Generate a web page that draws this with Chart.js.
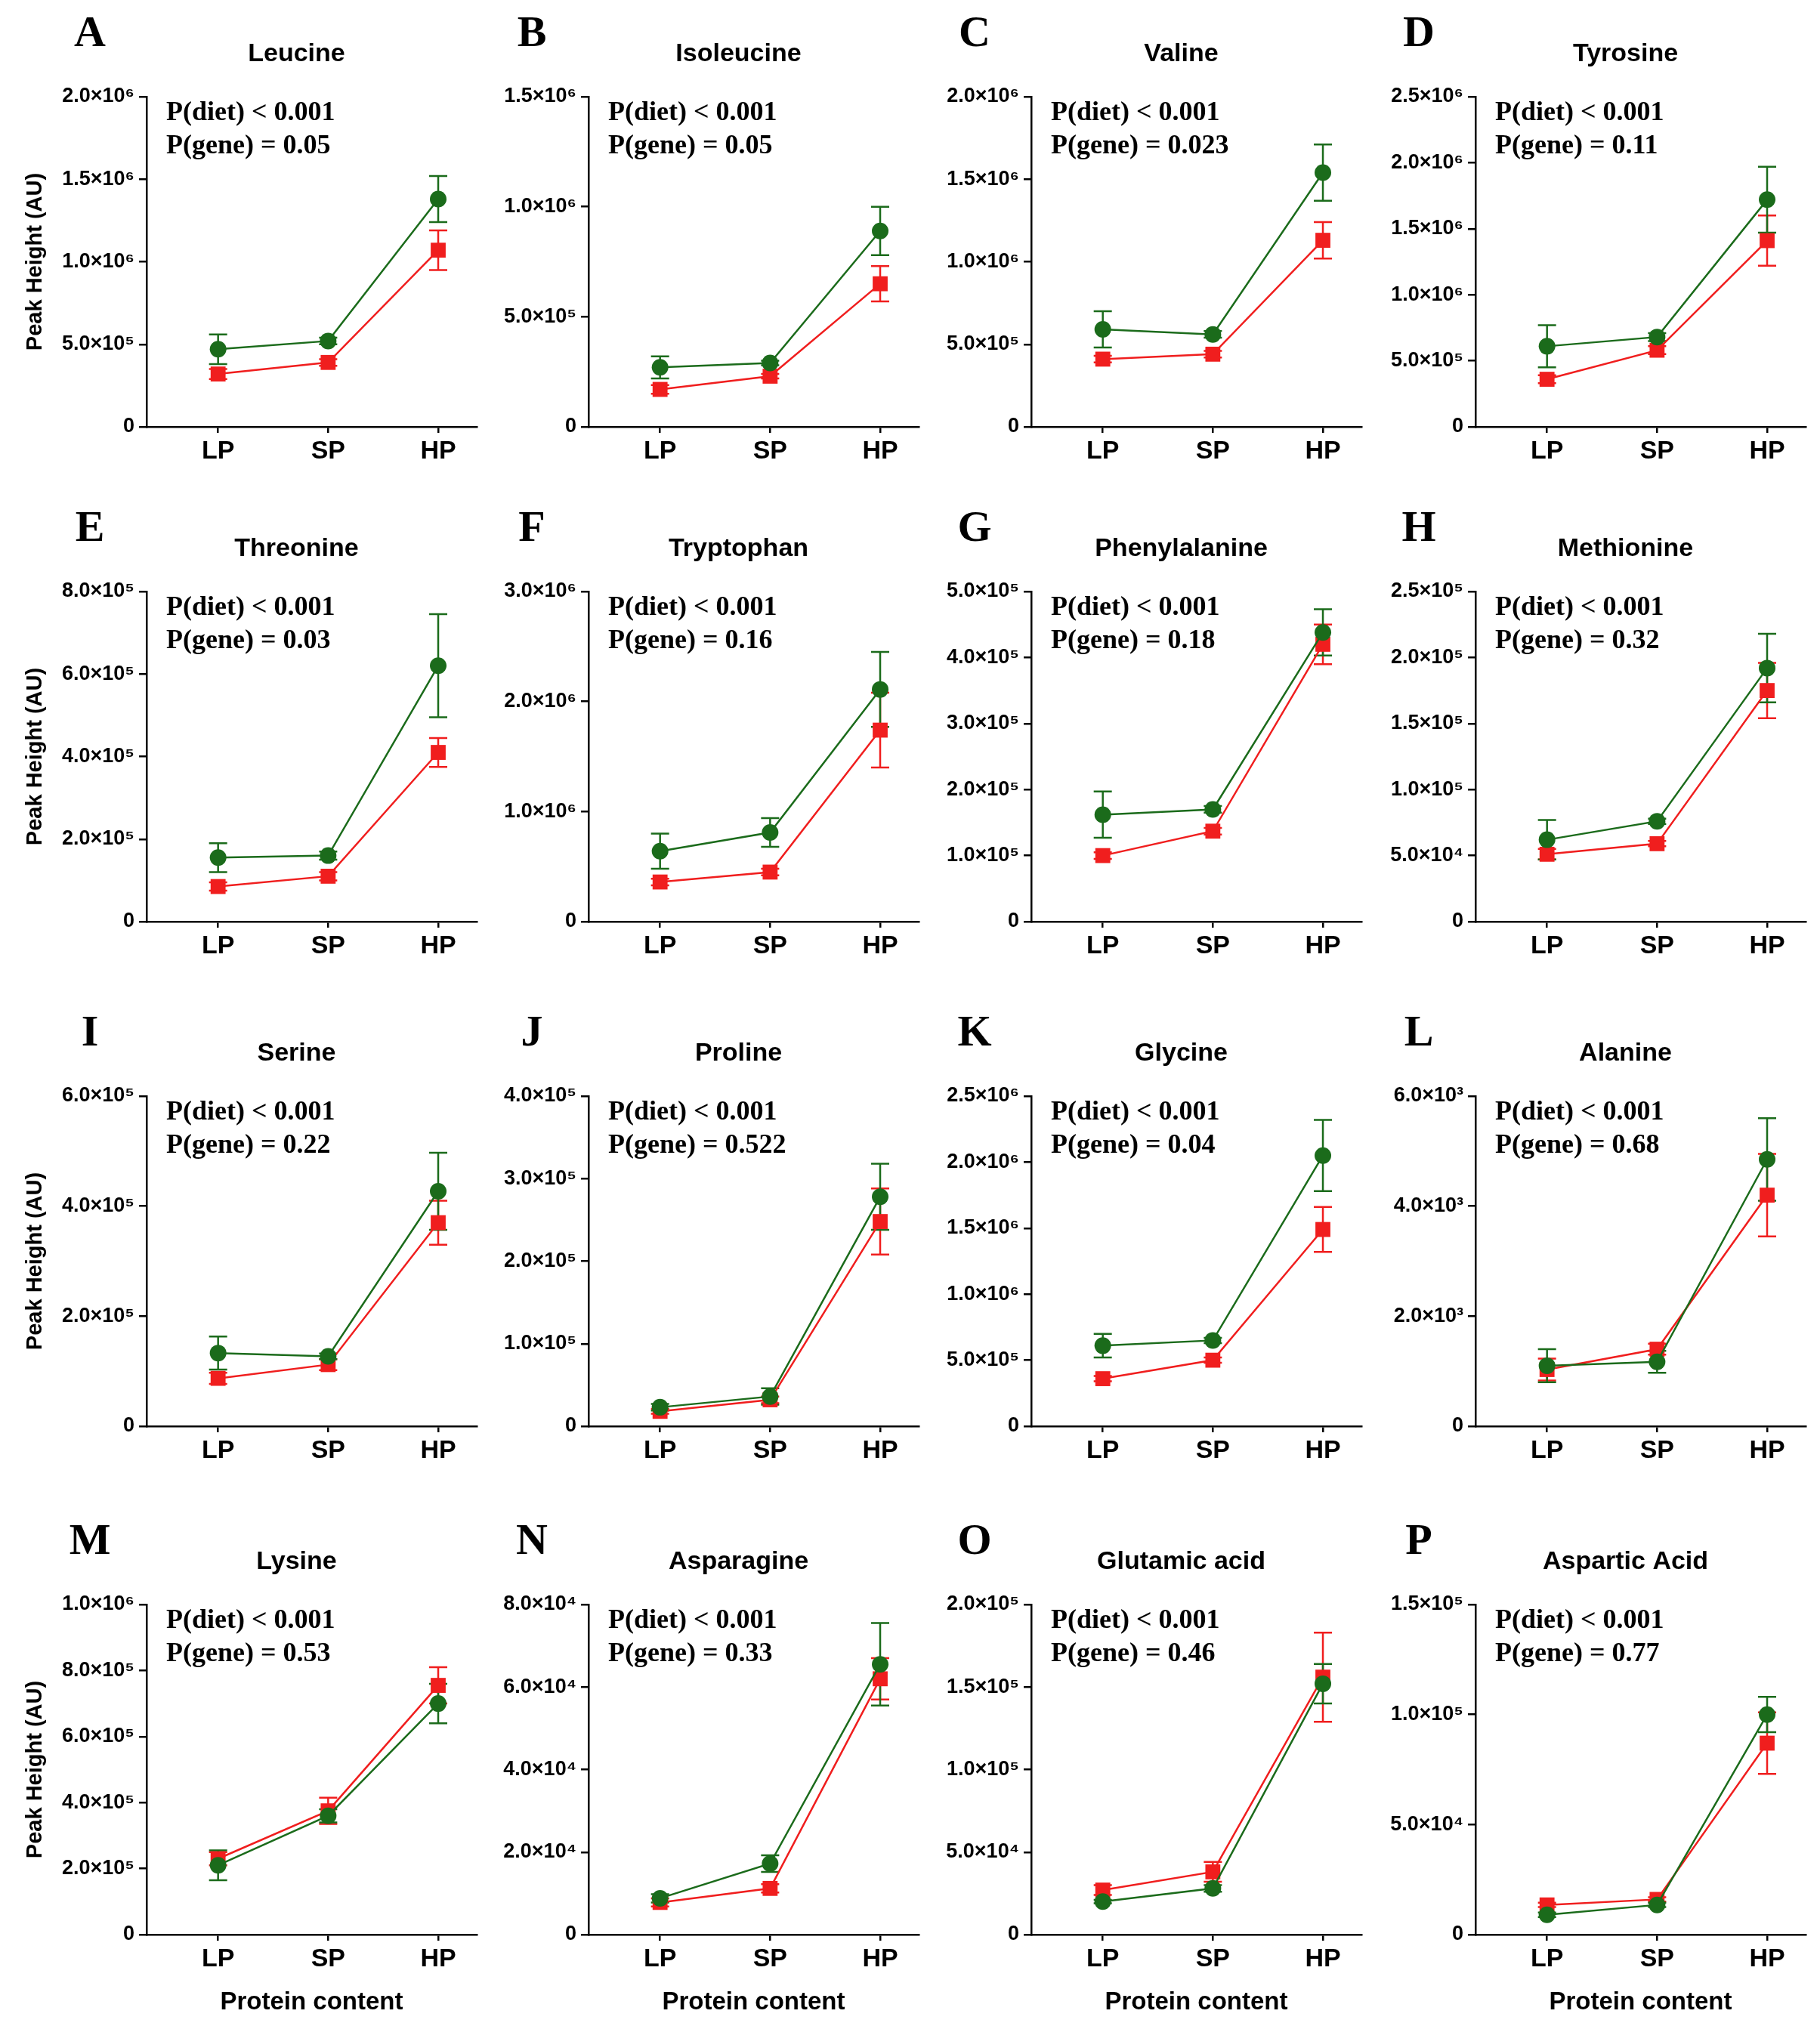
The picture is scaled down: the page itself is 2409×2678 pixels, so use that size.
<!DOCTYPE html>
<html><head><meta charset="utf-8">
<script src="https://cdn.jsdelivr.net/npm/chart.js@4.4.0/dist/chart.umd.min.js"></script>
<style>body{margin:0;background:#fff;width:2409px;height:2678px;position:relative;overflow:hidden}
.p{position:absolute;width:621px;height:697px}</style></head><body>
<script>
const categories=["LP","SP","HP"];
const letters=["A","B","C","D","E","F","G","H","I","J","K","L","M","N","O","P"];
const titles=["Leucine","Isoleucine","Valine","Tyrosine","Threonine","Tryptophan","Phenylalanine","Methionine","Serine","Proline","Glycine","Alanine","Lysine","Asparagine","Glutamic acid","Aspartic Acid"];
const pDiet=["P(diet) < 0.001","P(diet) < 0.001","P(diet) < 0.001","P(diet) < 0.001","P(diet) < 0.001","P(diet) < 0.001","P(diet) < 0.001","P(diet) < 0.001","P(diet) < 0.001","P(diet) < 0.001","P(diet) < 0.001","P(diet) < 0.001","P(diet) < 0.001","P(diet) < 0.001","P(diet) < 0.001","P(diet) < 0.001"];
const pGene=["P(gene) = 0.05","P(gene) = 0.05","P(gene) = 0.023","P(gene) = 0.11","P(gene) = 0.03","P(gene) = 0.16","P(gene) = 0.18","P(gene) = 0.32","P(gene) = 0.22","P(gene) = 0.522","P(gene) = 0.04","P(gene) = 0.68","P(gene) = 0.53","P(gene) = 0.33","P(gene) = 0.46","P(gene) = 0.77"];
const yMax=[2e6,1.5e6,2e6,2.5e6,8e5,3e6,5e5,2.5e5,6e5,4e5,2.5e6,6e3,1e6,8e4,2e5,1.5e5];
const yStep=[5e5,5e5,5e5,5e5,2e5,1e6,1e5,5e4,2e5,1e5,5e5,2e3,2e5,2e4,5e4,5e4];
const greenVals=[[4.7e5,5.2e5,1.38e6],[2.7e5,2.9e5,8.9e5],[5.9e5,5.6e5,1.54e6],[6.1e5,6.8e5,1.72e6],[1.55e5,1.6e5,6.2e5],[6.4e5,8.1e5,2.11e6],[1.62e5,1.7e5,4.38e5],[6.2e4,7.6e4,1.92e5],[1.33e5,1.27e5,4.27e5],[2.3e4,3.6e4,2.78e5],[6.1e5,6.5e5,2.05e6],[1.1e3,1.17e3,4.85e3],[2.1e5,3.6e5,7.0e5],[8.8e3,1.72e4,6.55e4],[2.0e4,2.8e4,1.52e5],[9e3,1.35e4,1.0e5]];
const greenErr=[[9e4,2e4,1.4e5],[5e4,1e4,1.1e5],[1.1e5,2e4,1.7e5],[1.6e5,3e4,2.5e5],[3.5e4,1e4,1.25e5],[1.6e5,1.3e5,3.4e5],[3.5e4,5e3,3.5e4],[1.5e4,2e3,2.6e4],[3e4,5e3,7e4],[4e3,1e4,4e4],[9e4,2e4,2.7e5],[3e2,2e2,7.5e2],[4.5e4,2e4,6e4],[1e3,2e3,1e4],[1e3,2e3,1.2e4],[1e3,1e3,8e3]];
const redVals=[[3.2e5,3.9e5,1.07e6],[1.7e5,2.3e5,6.5e5],[4.1e5,4.4e5,1.13e6],[3.6e5,5.8e5,1.41e6],[8.5e4,1.1e5,4.1e5],[3.6e5,4.5e5,1.74e6],[1.0e5,1.37e5,4.2e5],[5.1e4,5.9e4,1.75e5],[8.7e4,1.12e5,3.7e5],[1.8e4,3.2e4,2.48e5],[3.6e5,5.0e5,1.49e6],[1.03e3,1.4e3,4.2e3],[2.3e5,3.75e5,7.55e5],[7.8e3,1.12e4,6.2e4],[2.7e4,3.8e4,1.56e5],[1.35e4,1.6e4,8.7e4]];
const redErr=[[3e4,2e4,1.2e5],[2e4,1e4,8e4],[2e4,2e4,1.1e5],[3e4,3e4,1.9e5],[1e4,1e4,3.5e4],[3e4,3e4,3.4e5],[5e3,5e3,3e4],[4e3,2e3,2.1e4],[1e4,1e4,4e4],[3e3,4e3,4e4],[2e4,2e4,1.7e5],[2e2,1e2,7.5e2],[2e4,4e4,5.5e4],[1e3,1e3,5e3],[3e3,6e3,2.7e4],[1e3,1e3,1.4e4]];

const axisX=[194,779,1365,1953];
const plotTop=[128,783,1451,2124];
const SUP={"0":"⁰","1":"¹","2":"²","3":"³","4":"⁴","5":"⁵","6":"⁶","7":"⁷","8":"⁸","9":"⁹"};
function fmt(v){if(v===0)return "0";let e=Math.floor(Math.log10(v)+1e-9);let m=v/Math.pow(10,e);return m.toFixed(1)+"×10"+String(e).split("").map(c=>SUP[c]).join("");}
const GREEN="#1b6b1b",RED="#f01e1e";
const errPlugin={id:"err",beforeDatasetsDraw(ch){const ctx=ch.ctx;const y=ch.scales.y,x=ch.scales.x;
 ch.data.datasets.forEach(ds=>{ctx.save();ctx.strokeStyle=ds.borderColor;ctx.lineWidth=2.5;
  ds.data.forEach((p,i)=>{const px=x.getPixelForValue(p.x);const t=y.getPixelForValue(p.y+ds.err[i]),b=y.getPixelForValue(p.y-ds.err[i]);
   ctx.beginPath();ctx.moveTo(px,t);ctx.lineTo(px,b);ctx.moveTo(px-12,t);ctx.lineTo(px+12,t);ctx.moveTo(px-12,b);ctx.lineTo(px+12,b);ctx.stroke();});ctx.restore();});}};
const textPlugin={id:"txt",afterDraw(ch){const o=ch.options.plugins.txt;const ctx=ch.ctx;const a=ch.chartArea;ctx.save();ctx.fillStyle="#000";
 ctx.font="bold 58px 'Liberation Serif'";ctx.textBaseline="middle";ctx.textAlign="center";ctx.fillText(o.letter,a.left-75,a.top-82);
 ctx.font="bold 34px 'Liberation Sans'";ctx.fillText(o.title,(a.left+a.right)/2-20,a.top-56);
 ctx.textAlign="left";ctx.font="bold 36px 'Liberation Serif'";ctx.fillText(o.p1,a.left+26,a.top+22);ctx.fillText(o.p2,a.left+26,a.top+66);ctx.restore();}};
const pts=arr=>arr.map((v,i)=>({x:i,y:v}));

for(let k=0;k<16;k++){const r=Math.floor(k/4),c=k%4;
 const d=document.createElement("div");d.className="p";d.style.left=(axisX[c]-164)+"px";d.style.top=(plotTop[r]-150)+"px";
 const cv=document.createElement("canvas");d.appendChild(cv);document.body.appendChild(d);
 new Chart(cv,{type:"line",data:{datasets:[
  {data:pts(redVals[k]),err:redErr[k],borderColor:RED,backgroundColor:RED,pointStyle:"rect",pointRadius:14,borderWidth:2.5,pointBorderWidth:0,order:2},
  {data:pts(greenVals[k]),err:greenErr[k],borderColor:GREEN,backgroundColor:GREEN,pointStyle:"circle",pointRadius:11,borderWidth:2.5,pointBorderWidth:0,order:1}]},
 options:{responsive:true,maintainAspectRatio:false,animation:false,layout:{padding:{top:150,right:20,left:0,bottom:0}},
  plugins:{legend:{display:false},tooltip:{enabled:false},txt:{letter:letters[k],title:titles[k],p1:pDiet[k],p2:pGene[k]}},
  scales:{
   x:{type:"linear",min:-0.65,max:2.35,afterFit(s){s.height=110;},afterBuildTicks(s){s.ticks=[0,1,2].map(v=>({value:v}));},
      border:{color:"#000",width:2.5},grid:{drawOnChartArea:false,color:"#000",tickLength:8,lineWidth:2.5},
      ticks:{color:"#000",font:{family:"Liberation Sans",size:34,weight:"bold"},padding:4,callback:v=>categories[v]},
      title:{display:r===3,text:"Protein content",color:"#000",font:{family:"Liberation Sans",size:33,weight:"bold"},padding:0}},
   y:{min:0,max:yMax[k],afterFit(s){s.width=164;},border:{color:"#000",width:2.5},grid:{drawOnChartArea:false,color:"#000",tickLength:10,lineWidth:2.5},
      ticks:{stepSize:yStep[k],autoSkip:false,color:"#000",font:{family:"Liberation Sans",size:27,weight:"bold"},callback:v=>fmt(v),padding:6},
      title:{display:c===0,text:"Peak Height (AU)",color:"#000",font:{family:"Liberation Sans",size:29,weight:"bold"},padding:0}}}},
 plugins:[errPlugin,textPlugin]});}
</script></body></html>
